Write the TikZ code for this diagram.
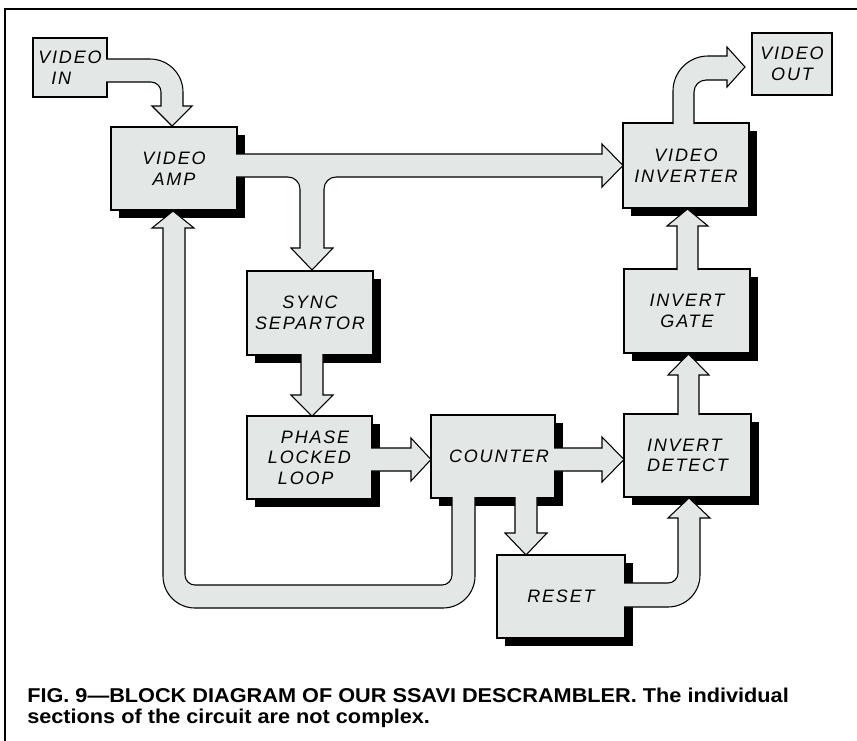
\documentclass[tikz,border=0pt]{standalone}
\usepackage{fontspec}
\usetikzlibrary{shadows}
\newfontfamily\hand[LetterSpace=10]{Liberation Sans}
\newfontfamily\capfont[FakeStretch=1.085]{Liberation Sans}
\definecolor{boxfill}{RGB}{227,231,230}
\begin{document}
\begin{tikzpicture}[x=0.75pt,y=-0.75pt,
  plainblock/.style={draw, line width=0.8pt, fill=boxfill, inner sep=0pt, align=center,
    font=\hand\itshape\fontsize{13.5}{15.5}\selectfont},
  shadblock/.style={plainblock, general shadow={fill=black, shadow xshift=6pt, shadow yshift=-6pt}},
  bsize/.style 2 args={minimum width=#1*0.75pt, minimum height=#2*0.75pt},
  fatarrow/.style={draw, line width=0.8pt, fill=boxfill, line join=miter},
  captext/.style={anchor=base west, inner sep=0pt, font=\capfont\bfseries\fontsize{15}{18}\selectfont}]
\useasboundingbox (0,0) rectangle (857,740);
\fill[white] (0,0) rectangle (857,740);
\draw[line width=1.5pt] (5,745) -- (5,9) -- (862,9);

% blocks
\node[plainblock, bsize={74}{59}, align=left] (vin) at (70,67.5) {VIDEO\\\hspace*{9.75pt}IN};
\node[plainblock, bsize={80}{62}] (vout) at (792,64) {VIDEO\\OUT};
\node[shadblock, bsize={126}{83}] (amp) at (174,168.5) {VIDEO\\AMP};
\node[shadblock, bsize={126}{85}] (vinv) at (686,165.5) {VIDEO\\INVERTER};
\node[shadblock, bsize={126}{84}] (sync) at (310,313) {SYNC\\SEPARTOR};
\node[shadblock, bsize={126}{84}] (gate) at (687,311) {INVERT\\GATE};
\node[shadblock, bsize={125}{83}, align=left] (pll) at (309.5,457.5) {\hspace*{9.75pt}PHASE\\LOCKED\\\hspace*{7.5pt}LOOP};
\node[shadblock, bsize={124}{83}] (counter) at (493,456.5) {\hspace*{9pt}COUNTER};
\node[shadblock, bsize={127}{83}, align=left] (detect) at (687.5,455.5) {INVERT\\DETECT};
\node[shadblock, bsize={128}{83}] (reset) at (561,596.5) {RESET};

% fat arrows
% video in -> video amp
\draw[fatarrow] (106,59) -- (150,59) .. controls (168.2,59) and (183,73.8) .. (183,92)
  -- (183,106) -- (192,106) -- (172,126) -- (152,106) -- (161,106) -- (161,92)
  .. controls (161,86.5) and (156.5,82) .. (151,82) -- (106,82);
% video amp -> video inverter, branch -> sync separator
\draw[fatarrow] (236,154) -- (602,154) -- (602,144) -- (623,165.5) -- (602,187) -- (602,177)
  -- (336,177) .. controls (329.4,177) and (324,182.4) .. (324,189)
  -- (324,248) -- (333,248) -- (312,270) -- (291,248) -- (300,248) -- (300,189)
  .. controls (300,182.4) and (294.6,177) .. (288,177) -- (236,177);
% sync -> pll
\draw[fatarrow] (301,354) -- (301,395) -- (291,395) -- (312,416) -- (333,395) -- (323,395) -- (323,354);
% pll -> counter
\draw[fatarrow] (371,448) -- (411,448) -- (411,438) -- (431,459.5) -- (411,481) -- (411,471) -- (371,471);
% counter -> invert detect
\draw[fatarrow] (554,448) -- (602,448) -- (602,437) -- (624,459.5) -- (602,482) -- (602,471) -- (554,471);
% counter -> reset
\draw[fatarrow] (515,497) -- (515,533) -- (505,533) -- (526,555) -- (547,533) -- (537,533) -- (537,497);
% counter -> video amp (feedback)
\draw[fatarrow] (475,497) -- (475,576) .. controls (475,593.7) and (460.7,608) .. (443,608)
  -- (195,608) .. controls (177.3,608) and (163,593.7) .. (163,576)
  -- (163,228) -- (152,228) -- (173,211) -- (194,228) -- (185,228) -- (185,575)
  .. controls (185,580.5) and (189.5,585) .. (195,585)
  -- (442,585) .. controls (447.5,585) and (452,580.5) .. (452,575) -- (452,497);
% reset -> invert detect
\draw[fatarrow] (624,583) -- (668,583) .. controls (673.5,583) and (678,578.5) .. (678,573)
  -- (678,518) -- (668,518) -- (689,498) -- (710,518) -- (700,518) -- (700,575)
  .. controls (700,592.7) and (685.7,607) .. (668,607) -- (624,607);
% invert detect -> invert gate
\draw[fatarrow] (678,415) -- (678,375) -- (668,375) -- (688.5,354) -- (709,375) -- (699,375) -- (699,415);
% invert gate -> video inverter
\draw[fatarrow] (677,270) -- (677,226) -- (667,226) -- (687.5,209) -- (708,226) -- (698,226) -- (698,270);
% video inverter -> video out
\draw[fatarrow] (673,124) -- (673,91) .. controls (673,71.7) and (688.7,56) .. (708,56)
  -- (727,56) -- (727,47) -- (745,67) -- (727,87) -- (727,80) -- (706,80)
  .. controls (699.4,80) and (694,85.4) .. (694,92) -- (694,124);

% caption
\node[captext] (cap1) at (27,702) {FIG. 9—BLOCK DIAGRAM OF OUR SSAVI DESCRAMBLER. The individual};
\node[captext] (cap2) at (27,723) {sections of the circuit are not complex.};
\end{tikzpicture}
\end{document}
